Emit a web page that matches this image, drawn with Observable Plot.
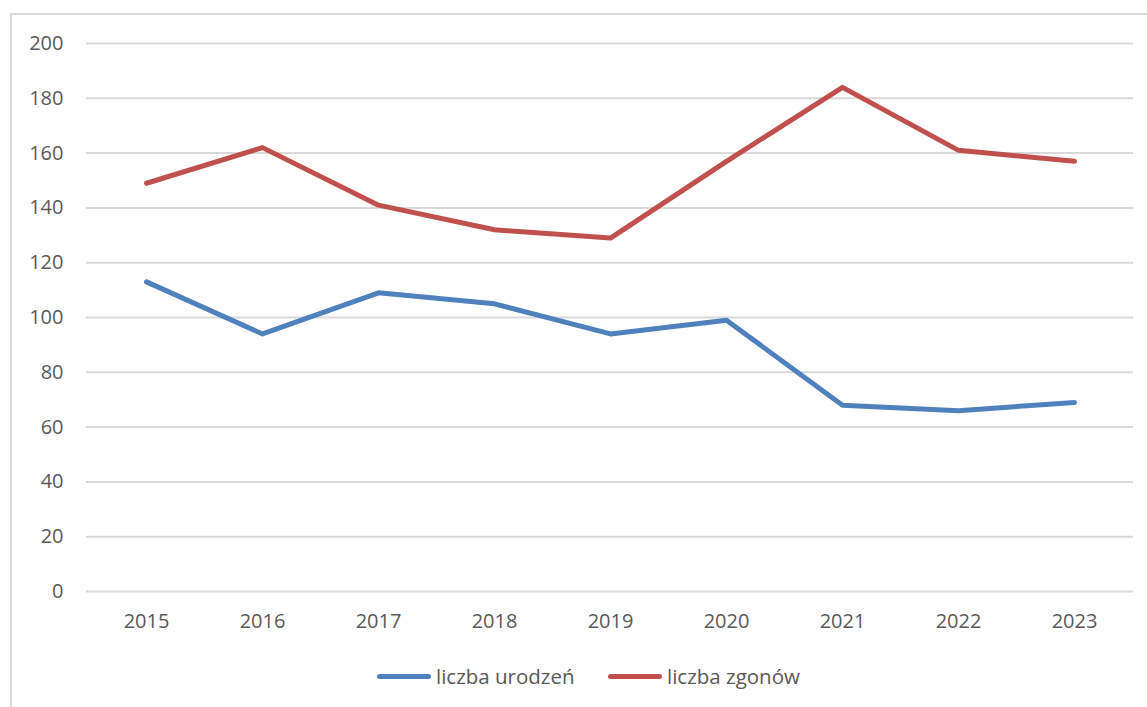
<!DOCTYPE html>
<html>
<head>
<meta charset="utf-8">
<script src="https://cdn.jsdelivr.net/npm/d3@7"></script>
<script src="https://cdn.jsdelivr.net/npm/@observablehq/plot@0.6"></script>
<style>
  html, body { margin: 0; padding: 0; background: #fff; overflow: hidden; }
  #wrap { position: relative; width: 1147px; height: 707px; font-family: "Open Sans", sans-serif; }
  #frame { position: absolute; left: 10px; top: 13px; width: 1200px; height: 760px; border: 2px solid #d9d9d9; box-sizing: border-box; }
  #chart { position: absolute; left: 0; top: 0; }
  #legend { position: absolute; left: 0; top: 660px; width: 1147px; height: 32px; }
  .item { position: absolute; top: 0; display: flex; align-items: center; height: 32px; font-size: 20.5px; color: #595959; }
  .sw { width: 54px; height: 5px; border-radius: 3px; margin-right: 5px; }
</style>
</head>
<body>
<div id="wrap">
  <div id="frame"></div>
  <div id="chart"></div>
  <div id="legend"></div>
</div>
<script>
const years = ["2015","2016","2017","2018","2019","2020","2021","2022","2023"];
const urodzenia = [113, 94, 109, 105, 94, 99, 68, 66, 69];
const zgony = [149, 162, 141, 132, 129, 157, 184, 161, 157];
const seriesNames = ["liczba urodzeń", "liczba zgonów"];
const colors = ["#4F81BD", "#C0504D"];
const yTicks = [0, 20, 40, 60, 80, 100, 120, 140, 160, 180, 200];

const data = [];
years.forEach((y, i) => {
  data.push({year: y, value: urodzenia[i], series: seriesNames[0]});
  data.push({year: y, value: zgony[i], series: seriesNames[1]});
});

const plot = Plot.plot({
  width: 1147,
  height: 655,
  marginTop: 43,
  marginBottom: 64,
  marginLeft: 86,
  marginRight: 14,
  style: { fontFamily: "Open Sans, sans-serif", fontSize: "20px", color: "#595959", background: "transparent" },
  x: { type: "point", domain: years, padding: 0.5, label: null },
  y: { domain: [0, 200], label: null },
  color: { domain: seriesNames, range: colors },
  marks: [
    Plot.gridY(yTicks, { stroke: "#d9d9d9", strokeOpacity: 1, strokeWidth: 2 }),
    Plot.axisY(yTicks, { tickSize: 0, tickPadding: 23, fill: "#595959", fontSize: 20 }),
    Plot.axisX({ tickSize: 0, tickPadding: 22, fill: "#595959", fontSize: 20 }),
    Plot.line(data, { x: "year", y: "value", z: "series", stroke: "series", strokeWidth: 5, strokeLinecap: "round", strokeLinejoin: "round" })
  ]
});
document.getElementById("chart").appendChild(plot);

const legend = document.getElementById("legend");
const lefts = [377, 608];
seriesNames.forEach((name, i) => {
  const it = document.createElement("div");
  it.className = "item";
  it.style.left = lefts[i] + "px";
  const sw = document.createElement("div");
  sw.className = "sw";
  sw.style.background = colors[i];
  const t = document.createElement("span");
  t.textContent = name;
  it.appendChild(sw);
  it.appendChild(t);
  legend.appendChild(it);
});
</script>
</body>
</html>
